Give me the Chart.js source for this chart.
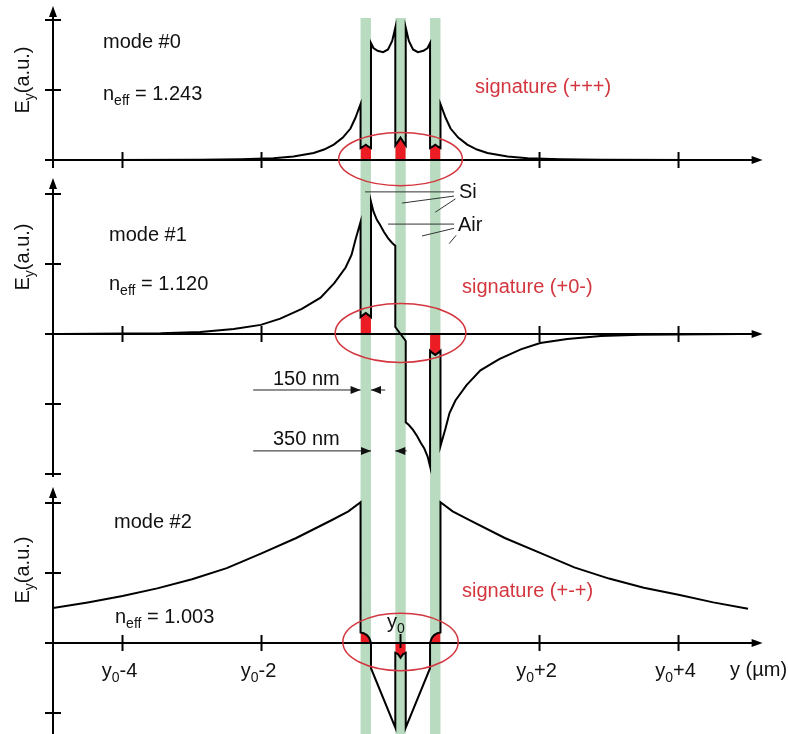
<!DOCTYPE html>
<html>
<head>
<meta charset="utf-8">
<script src="https://cdn.jsdelivr.net/npm/chart.js@4.4.1/dist/chart.umd.min.js"></script>
<style>
  html, body { margin: 0; padding: 0; background: #fff; }
  #wrap { width: 788px; height: 734px; position: relative; }
</style>
</head>
<body>
<div id="wrap"><canvas id="modesChart"></canvas></div>
<script>
// position y - y0 in µm, field Ey in arbitrary units (1 unit = one axis tick)
const mode0X = [-5, -4.17, -2.88, -2.3, -1.83, -1.54, -1.25, -1.1, -0.96, -0.83, -0.72, -0.65, -0.575,
  -0.575, -0.54, -0.5, -0.46, -0.425,
  -0.425, -0.39, -0.33, -0.25, -0.18, -0.12, -0.075,
  -0.075, -0.04, 0, 0.04, 0.075,
  0.075, 0.12, 0.18, 0.25, 0.33, 0.39, 0.425,
  0.425, 0.46, 0.5, 0.54, 0.575,
  0.575, 0.65, 0.72, 0.83, 0.96, 1.1, 1.25, 1.54, 1.83, 2.3, 2.88, 4.17, 5];
const mode0E = [0, 0, 0.003, 0.01, 0.025, 0.05, 0.1, 0.15, 0.22, 0.32, 0.45, 0.6, 0.8,
  0.17, 0.19, 0.22, 0.19, 0.17,
  1.67, 1.6, 1.56, 1.54, 1.58, 1.7, 1.89,
  0.21, 0.26, 0.32, 0.26, 0.21,
  1.89, 1.7, 1.58, 1.54, 1.56, 1.6, 1.67,
  0.17, 0.19, 0.22, 0.19, 0.17,
  0.8, 0.6, 0.45, 0.32, 0.22, 0.15, 0.1, 0.05, 0.025, 0.01, 0.003, 0, 0];

const mode1X = [-5, -4.89, -3.45, -2.88, -2.4, -2.01, -1.73, -1.42, -1.15, -0.95, -0.79, -0.705, -0.647, -0.575,
  -0.575, -0.54, -0.5, -0.46, -0.425,
  -0.425, -0.39, -0.34, -0.295, -0.24, -0.18, -0.12, -0.075,
  -0.075, 0, 0.075,
  0.075, 0.12, 0.18, 0.24, 0.295, 0.34, 0.39, 0.425,
  0.425, 0.46, 0.5, 0.54, 0.575,
  0.575, 0.647, 0.705, 0.79, 0.95, 1.15, 1.42, 1.73, 2.01, 2.4, 2.88, 3.45, 4.89, 5];
const mode1E = [0, 0, 0.01, 0.03, 0.07, 0.13, 0.22, 0.36, 0.52, 0.73, 0.95, 1.13, 1.35, 1.6,
  0.24, 0.27, 0.3, 0.27, 0.24,
  1.89, 1.75, 1.63, 1.56, 1.46, 1.37, 1.3, 1.26,
  0.1, 0, -0.1,
  -1.26, -1.3, -1.37, -1.46, -1.56, -1.63, -1.75, -1.89,
  -0.24, -0.27, -0.3, -0.27, -0.24,
  -1.6, -1.35, -1.13, -0.95, -0.73, -0.52, -0.36, -0.22, -0.13, -0.07, -0.03, -0.01, 0, 0];

const mode2X = [-5, -4.5, -4, -3.5, -3, -2.5, -2, -1.5, -1, -0.75, -0.575,
  -0.575, -0.53, -0.48, -0.45, -0.425,
  -0.425, -0.075,
  -0.075, -0.035, 0, 0.035, 0.075,
  0.075, 0.425,
  0.425, 0.45, 0.48, 0.53, 0.575,
  0.575, 0.75, 1, 1.5, 2, 2.5, 3, 3.5, 4, 4.5, 5];
const mode2E = [0.5, 0.58, 0.67, 0.78, 0.91, 1.07, 1.28, 1.5, 1.75, 1.88, 2.01,
  0.15, 0.14, 0.11, 0.07, 0,
  -0.36, -1.21,
  -0.14, -0.16, -0.21, -0.16, -0.14,
  -1.21, -0.36,
  0, 0.07, 0.11, 0.14, 0.15,
  2.01, 1.88, 1.75, 1.5, 1.29, 1.08, 0.92, 0.79, 0.69, 0.58, 0.49];

// Si slabs: centres and width (µm)
const siCenters = [-0.5, 0, 0.5];
const siWidth = 0.15;

const modeNames = ["mode #0", "mode #1", "mode #2"];
const neffValues = ["1.243", "1.120", "1.003"];
const signatures = ["signature (+++)", "signature (+0-)", "signature (+-+)"];
// which Si slabs get the red marker, per mode
const redSlabs = [[true, true, true], [true, false, true], [true, true, true]];

const xTickValues = [-4, -2, 2, 4];
const xTickLabels = [["y", "0", "-4"], ["y", "0", "-2"], ["y", "0", "+2"], ["y", "0", "+4"]];

const FONT = '"Liberation Sans", Arial, sans-serif';
const RED_FILL = "#ec1c24";
const RED_LINE = "#d3363e";

// panel layout: y axis ids, ranges (70 px per unit), ticks, text spots
const panels = [
  { id: "yTop", min: -0.171, max: 2.286, h: 172, order: 3, yTicks: [1, 2],
    modeAt: [103, 48], neffAt: [103, 100], sigAt: [475, 93], eyAt: 80, ell: [0.89, 0.38] },
  { id: "yMid", min: -2.1, max: 2.314, h: 309, order: 2, yTicks: [-2, -1, 1, 2],
    modeAt: [109, 241], neffAt: [109, 290], sigAt: [462, 293], eyAt: 257, ell: [0.94, 0.42] },
  { id: "yBot", min: -1.3, max: 2.314, h: 253, order: 1, yTicks: [-1, 1, 2],
    modeAt: [114, 528], neffAt: [115, 623], sigAt: [462, 597], eyAt: 570, ell: [0.83, 0.41] }
];

const modeX = [mode0X, mode1X, mode2X];
const modeE = [mode0E, mode1E, mode2E];

function toPoints(xs, ys) {
  return xs.map((x, i) => ({ x: x, y: ys[i] }));
}

// inner part of the field inside one Si slab (drop the jump end points)
function slabPoints(xs, ys, c) {
  const a = c - siWidth / 2 - 1e-6, b = c + siWidth / 2 + 1e-6;
  const pts = [];
  xs.forEach((x, i) => { if (x >= a && x <= b) pts.push({ x: x, y: ys[i] }); });
  return pts.slice(1, -1);
}

const datasets = [];
panels.forEach((p, m) => {
  datasets.push({
    data: toPoints(modeX[m], modeE[m]),
    yAxisID: p.id,
    showLine: true,
    borderColor: "#000",
    borderWidth: 2,
    pointRadius: 0,
    tension: 0,
    fill: false
  });
});
panels.forEach((p, m) => {
  siCenters.forEach((c, k) => {
    if (!redSlabs[m][k]) return;
    datasets.push({
      data: slabPoints(modeX[m], modeE[m], c),
      yAxisID: p.id,
      showLine: true,
      borderColor: "rgba(0,0,0,0)",
      borderWidth: 0,
      backgroundColor: RED_FILL,
      pointRadius: 0,
      fill: "origin"
    });
  });
});

function arrowHead(ctx, x, y, dx, dy, len, half) {
  // tip at (x, y), pointing along (dx, dy)
  ctx.beginPath();
  ctx.moveTo(x, y);
  ctx.lineTo(x - dx * len - dy * half, y - dy * len + dx * half);
  ctx.lineTo(x - dx * len + dy * half, y - dy * len - dx * half);
  ctx.closePath();
  ctx.fill();
}

// text made of [string, isSub] parts
function richText(ctx, x, y, parts, size, align) {
  const big = size + "px " + FONT, small = Math.round(size * 0.72) + "px " + FONT;
  let w = 0;
  parts.forEach(([t, sub]) => { ctx.font = sub ? small : big; w += ctx.measureText(t).width; });
  let cx = align === "center" ? x - w / 2 : x;
  parts.forEach(([t, sub]) => {
    ctx.font = sub ? small : big;
    ctx.fillText(t, cx, sub ? y + 5 : y);
    cx += ctx.measureText(t).width;
  });
}

const figurePlugin = {
  id: "figureDecor",
  beforeDatasetsDraw(chart) {
    const { ctx } = chart;
    const x = chart.scales.x;
    ctx.save();
    ctx.fillStyle = "#b9dcc0";
    siCenters.forEach(c => {
      const l = x.getPixelForValue(c - siWidth / 2), r = x.getPixelForValue(c + siWidth / 2);
      ctx.fillRect(l, 18, r - l, chart.height - 18);
    });
    ctx.restore();
  },
  afterDatasetsDraw(chart) {
    const { ctx } = chart;
    const x = chart.scales.x;
    const x0 = x.getPixelForValue(-5);
    const xEnd = x.getPixelForValue(5.21);
    ctx.save();
    ctx.strokeStyle = "#000";
    ctx.fillStyle = "#000";
    ctx.lineWidth = 2;
    panels.forEach((p, m) => {
      const s = chart.scales[p.id];
      const zero = s.getPixelForValue(0);
      // vertical axis with arrow
      const tip = s.top + 6;
      ctx.beginPath();
      ctx.moveTo(x0, tip + 4);
      ctx.lineTo(x0, m === 2 ? chart.height : s.bottom - 4);
      ctx.stroke();
      arrowHead(ctx, x0, tip, 0, -1, 11, 4);
      p.yTicks.forEach(v => {
        const py = s.getPixelForValue(v);
        ctx.beginPath();
        ctx.moveTo(x0 - 8, py);
        ctx.lineTo(x0 + 8, py);
        ctx.stroke();
      });
      // horizontal axis with arrow
      ctx.beginPath();
      ctx.moveTo(x0 - 8, zero);
      ctx.lineTo(xEnd - 6, zero);
      ctx.stroke();
      arrowHead(ctx, xEnd, zero, 1, 0, 11, 4);
      xTickValues.forEach(v => {
        const px = x.getPixelForValue(v);
        ctx.beginPath();
        ctx.moveTo(px, zero - 8);
        ctx.lineTo(px, zero + 8);
        ctx.stroke();
      });
      if (m === 2) {
        const px = x.getPixelForValue(0);
        ctx.beginPath();
        ctx.moveTo(px, zero - 9);
        ctx.lineTo(px, zero + 5);
        ctx.stroke();
      }
      // red ellipse around the slabs
      const cx = x.getPixelForValue(0);
      const rx = x.getPixelForValue(p.ell[0]) - cx;
      const ry = s.getPixelForValue(0) - s.getPixelForValue(p.ell[1]);
      ctx.save();
      ctx.strokeStyle = RED_LINE;
      ctx.lineWidth = 1.5;
      ctx.beginPath();
      ctx.ellipse(cx, zero - 1, rx, ry, 0, 0, Math.PI * 2);
      ctx.stroke();
      ctx.restore();
    });

    // Si / Air leader lines (middle panel coordinates)
    const sm = chart.scales.yMid;
    const P = (ux, uy) => [x.getPixelForValue(ux), sm.getPixelForValue(uy)];
    const leaders = [
      [[-0.51, 2.03], [0.77, 2.03]], [[0.02, 1.87], [0.77, 1.97]], [[0.5, 1.74], [0.79, 1.93]],
      [[-0.18, 1.57], [0.77, 1.57]], [[0.31, 1.4], [0.77, 1.51]], [[0.7, 1.29], [0.8, 1.41]]
    ];
    ctx.strokeStyle = "#333";
    ctx.lineWidth = 1;
    leaders.forEach(([a, b]) => {
      const pa = P(a[0], a[1]), pb = P(b[0], b[1]);
      ctx.beginPath();
      ctx.moveTo(pa[0], pa[1]);
      ctx.lineTo(pb[0], pb[1]);
      ctx.stroke();
    });

    // dimension arrows: 150 nm (Si width), 350 nm (gap)
    ctx.strokeStyle = "#222";
    ctx.fillStyle = "#111";
    const dims = [
      { y: -0.8, a: -0.575, b: -0.425, tail: -0.22 },
      { y: -1.67, a: -0.425, b: -0.075, tail: 0.09 }
    ];
    dims.forEach(d => {
      const py = sm.getPixelForValue(d.y);
      const pa = x.getPixelForValue(d.a), pb = x.getPixelForValue(d.b);
      ctx.beginPath();
      ctx.moveTo(x.getPixelForValue(-2.12), py);
      ctx.lineTo(pa, py);
      ctx.moveTo(pb, py);
      ctx.lineTo(x.getPixelForValue(d.tail), py);
      ctx.stroke();
      arrowHead(ctx, pa, py, 1, 0, 10, 4);
      arrowHead(ctx, pb, py, -1, 0, 10, 4);
    });
    ctx.restore();
  },
  afterDraw(chart) {
    const { ctx } = chart;
    const x = chart.scales.x;
    ctx.save();
    ctx.textBaseline = "alphabetic";
    ctx.fillStyle = "#111";
    panels.forEach((p, m) => {
      richText(ctx, p.modeAt[0], p.modeAt[1], [[modeNames[m], false]], 20, "left");
      richText(ctx, p.neffAt[0], p.neffAt[1], [["n", false], ["eff", true], [" = " + neffValues[m], false]], 20, "left");
      ctx.save();
      ctx.translate(29, p.eyAt);
      ctx.rotate(-Math.PI / 2);
      richText(ctx, 0, 0, [["E", false], ["y", true], ["(a.u.)", false]], 20, "center");
      ctx.restore();
      ctx.fillStyle = RED_LINE;
      richText(ctx, p.sigAt[0], p.sigAt[1], [[signatures[m], false]], 20, "left");
      ctx.fillStyle = "#111";
    });
    // bottom axis labels
    xTickValues.forEach((v, i) => {
      const [a, b, c] = xTickLabels[i];
      richText(ctx, x.getPixelForValue(v) - 3, 677, [[a, false], [b, true], [c, false]], 20, "center");
    });
    richText(ctx, 730, 676, [["y (\u00b5m)", false]], 20, "left");
    richText(ctx, 387, 628, [["y", false], ["0", true]], 20, "left");
    richText(ctx, 459, 198, [["Si", false]], 20, "left");
    richText(ctx, 458, 231, [["Air", false]], 20, "left");
    richText(ctx, 273, 385, [["150 nm", false]], 20, "left");
    richText(ctx, 273, 445, [["350 nm", false]], 20, "left");
    ctx.restore();
  }
};

const scales = {
  x: { type: "linear", min: -5, max: 5.575, display: false }
};
panels.forEach(p => {
  scales[p.id] = {
    type: "linear",
    position: "left",
    stack: "modes",
    stackWeight: p.h,
    weight: p.order,
    min: p.min,
    max: p.max,
    display: false
  };
});

new Chart(document.getElementById("modesChart"), {
  type: "scatter",
  data: { datasets: datasets },
  options: {
    responsive: true,
    maintainAspectRatio: false,
    animation: false,
    events: [],
    layout: { padding: { left: 53, right: 0, top: 0, bottom: 0 } },
    plugins: { legend: { display: false }, tooltip: { enabled: false } },
    scales: scales
  },
  plugins: [figurePlugin]
});
</script>
</body>
</html>
